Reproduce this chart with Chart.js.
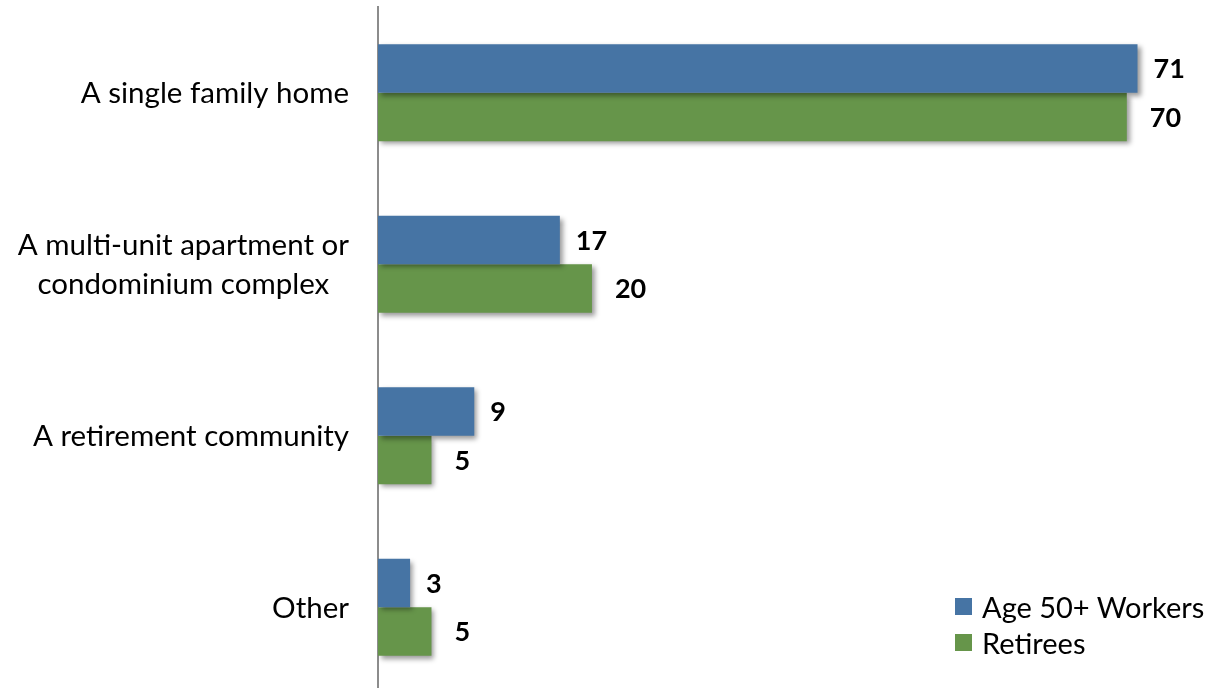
<!DOCTYPE html>
<html>
<head>
<meta charset="utf-8">
<script src="https://cdn.jsdelivr.net/npm/chart.js@4.4.0/dist/chart.umd.min.js"></script>
<style>
  body { margin: 0; background: #fff; }
  #wrap { position: relative; width: 1207px; height: 688px; overflow: hidden; }
  #legend { position: absolute; left: 955px; top: 588px; font-family: Lato, sans-serif; font-size: 29px; color: #000; }
  #legend div { display: flex; align-items: center; height: 36px; }
  #legend span.box { width: 17px; height: 17px; margin-right: 10px; display: inline-block; }
</style>
</head>
<body>
<div id="wrap">
  <canvas id="chart" width="1207" height="693"></canvas>
  <div id="legend"></div>
</div>
<script>
const categories = [
  "A single family home",
  ["A multi-unit apartment or", "condominium complex"],
  "A retirement community",
  "Other"
];
const seriesNames = ["Age 50+ Workers", "Retirees"];
const workers = [71, 17, 9, 3];
const retirees = [70, 20, 5, 5];
const colors = ["#4674A4", "#66954A"];
const labelGap = [16, 23];

// legend
const legendDiv = document.getElementById("legend");
seriesNames.forEach((name, i) => {
  const row = document.createElement("div");
  row.innerHTML = `<span class="box" style="background:${colors[i]}"></span>${name}`;
  legendDiv.appendChild(row);
});

// category labels, each block centred, right edge near the axis
const categoryLabels = {
  id: "categoryLabels",
  afterDraw(chart) {
    const ctx = chart.ctx;
    const y = chart.scales.y;
    ctx.save();
    ctx.font = "29.5px Lato";
    ctx.fillStyle = "#000";
    ctx.textBaseline = "middle";
    ctx.textAlign = "center";
    categories.forEach((lab, i) => {
      const lines = Array.isArray(lab) ? lab : [lab];
      const maxW = Math.max(...lines.map(l => ctx.measureText(l).width));
      const cx = chart.chartArea.left - 29 - maxW / 2;
      const cy = y.getPixelForValue(i) + 1;
      const lh = 39;
      lines.forEach((l, j) => {
        ctx.fillText(l, cx, cy + (j - (lines.length - 1) / 2) * lh);
      });
    });
    ctx.restore();
  }
};

// bar shadow + value labels
const barExtras = {
  id: "barExtras",
  beforeDatasetsDraw(chart) {
    const ctx = chart.ctx;
    ctx.save();
    ctx.shadowColor = "rgba(0,0,0,0.4)";
    ctx.shadowBlur = 5;
    ctx.shadowOffsetX = 3;
    ctx.shadowOffsetY = 3;
  },
  afterDatasetsDraw(chart) {
    const ctx = chart.ctx;
    ctx.restore();
    ctx.save();
    ctx.font = "bold 27px Lato";
    ctx.fillStyle = "#000";
    ctx.textBaseline = "middle";
    ctx.textAlign = "left";
    chart.data.datasets.forEach((ds, d) => {
      chart.getDatasetMeta(d).data.forEach((el, i) => {
        ctx.fillText(ds.data[i], el.x + labelGap[d], el.y + 1);
      });
    });
    ctx.restore();
  }
};

new Chart(document.getElementById("chart"), {
  type: "bar",
  data: {
    labels: categories,
    datasets: [
      { label: seriesNames[0], data: workers, backgroundColor: colors[0] },
      { label: seriesNames[1], data: retirees, backgroundColor: colors[1] }
    ]
  },
  options: {
    indexAxis: "y",
    responsive: false,
    animation: false,
    layout: { padding: { left: 378, right: 16, top: 7, bottom: 0 } },
    datasets: { bar: { categoryPercentage: 0.567, barPercentage: 1 } },
    plugins: { legend: { display: false }, tooltip: { enabled: false } },
    scales: {
      x: { display: false, min: 0, max: 76 },
      y: {
        ticks: { display: false },
        grid: { display: false, drawTicks: false },
        border: { display: true, color: "#8c8c8c", width: 2 }
      }
    }
  },
  plugins: [categoryLabels, barExtras]
});
</script>
</body>
</html>
